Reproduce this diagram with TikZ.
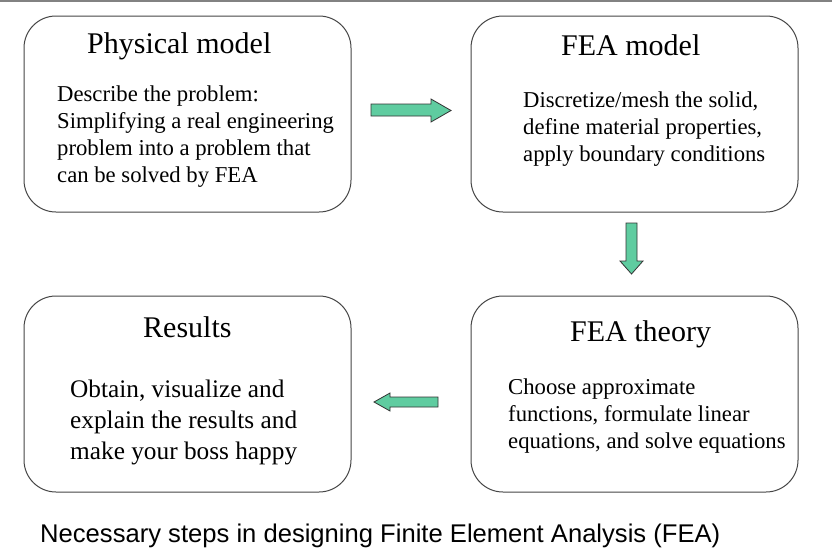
\documentclass[tikz,border=0pt]{standalone}
\usepackage{fontspec}
\setmainfont{Liberation Serif}
\newfontfamily\capfont{Liberation Sans}
\definecolor{arrowgreen}{RGB}{95,204,160}
\definecolor{boxline}{RGB}{70,70,70}
\definecolor{topline}{RGB}{130,130,130}
\begin{document}
\begin{tikzpicture}[x=1pt,y=-1pt,
  stepbox/.style={draw=boxline,line width=1pt,rounded corners=32pt},
  titletext/.style={anchor=base west,inner sep=0pt,font=\fontsize{30}{36}\selectfont},
  bodytext/.style={anchor=base west,inner sep=0pt,font=\fontsize{22.7}{27}\selectfont},
  bigbodytext/.style={anchor=base west,inner sep=0pt,font=\fontsize{25.3}{31}\selectfont},
  fatarrow/.style={fill=arrowgreen,draw=black!80,line width=0.8pt,line join=miter}]
\useasboundingbox (0,0) rectangle (832,554);
\fill[white] (0,0) rectangle (832,554);
\draw[topline,line width=2pt] (0,1) -- (832,1);

% boxes
\draw[stepbox] (24,16) rectangle (351,212);
\draw[stepbox] (471,16) rectangle (798,212);
\draw[stepbox] (471,296) rectangle (798,492);
\draw[stepbox] (24,296) rectangle (351,492);

% box 1
\node[titletext] (t1) at (87,53) {Physical model};
\node[bodytext] (b1a) at (57,101) {Describe the problem:};
\node[bodytext] (b1b) at (57,128) {Simplifying a real engineering};
\node[bodytext] (b1c) at (57,155) {problem into a problem that};
\node[bodytext] (b1d) at (57,182) {can be solved by FEA};

% box 2
\node[titletext] (t2) at (561,55) {FEA model};
\node[bodytext] (b2a) at (523,107) {Discretize/mesh the solid,};
\node[bodytext] (b2b) at (523,134) {define material properties,};
\node[bodytext] (b2c) at (523,161) {apply boundary conditions};

% box 3
\node[titletext] (t3) at (570,341) {FEA theory};
\node[bodytext] (b3a) at (508,394) {Choose approximate};
\node[bodytext] (b3b) at (508,421) {functions, formulate linear};
\node[bodytext] (b3c) at (508,448) {equations, and solve equations};

% box 4
\node[titletext] (t4) at (143,337) {Results};
\node[bigbodytext] (b4a) at (70,397) {Obtain, visualize and};
\node[bigbodytext] (b4b) at (70,428) {explain the results and};
\node[bigbodytext] (b4c) at (70,459) {make your boss happy};

% arrows
\draw[fatarrow] (371,104) -- (431,104) -- (431,99) -- (451,110.5) -- (431,122) -- (431,116) -- (371,116) -- cycle;
\draw[fatarrow] (626,223) -- (637,223) -- (637,261) -- (643,261) -- (631.5,274) -- (620,261) -- (626,261) -- cycle;
\draw[fatarrow] (438,397) -- (390,397) -- (390,393) -- (374,402) -- (390,411) -- (390,407) -- (438,407) -- cycle;

% caption
\node[anchor=base west,inner sep=0pt,font=\capfont\fontsize{25.6}{30}\selectfont] (cap) at (40,542) {Necessary steps in designing Finite Element Analysis (FEA)};
\end{tikzpicture}
\end{document}
